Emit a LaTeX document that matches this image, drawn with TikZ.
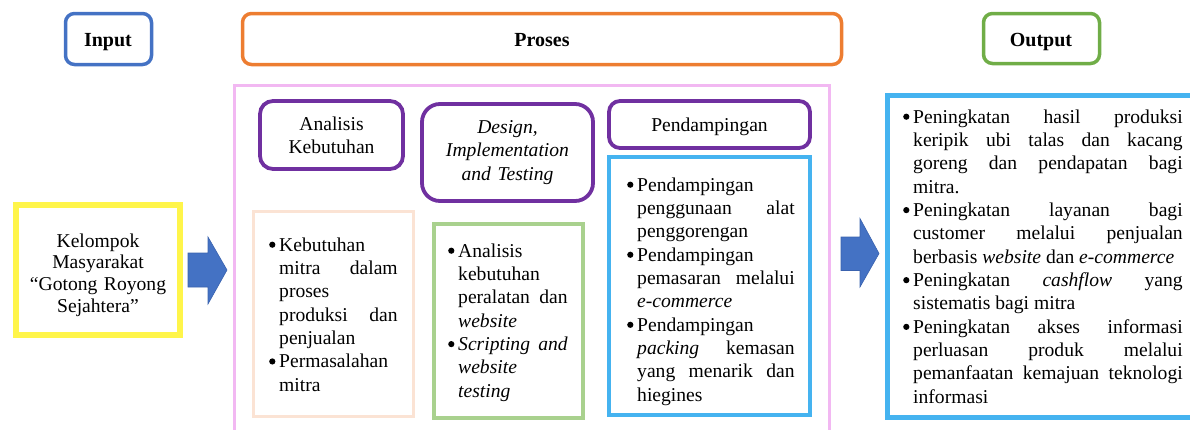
\documentclass[tikz,border=0pt]{standalone}
\usepackage{fontspec}
\setmainfont{Liberation Serif}
\definecolor{inblue}{HTML}{4472C4}
\definecolor{prorange}{HTML}{ED7D31}
\definecolor{outgreen}{HTML}{70AD47}
\definecolor{pinkc}{HTML}{F2B8F2}
\definecolor{purp}{HTML}{7030A0}
\definecolor{peach}{HTML}{FBE3D4}
\definecolor{lgreen}{HTML}{A9D18E}
\definecolor{skyb}{HTML}{45B3F0}
\definecolor{yel}{HTML}{FFF54A}
\definecolor{arrfill}{HTML}{4472C4}
\definecolor{arrline}{HTML}{3A62AE}
\newlength\bulw
\setlength\bulw{10pt}
\newcommand\bigbul{\tikz[baseline=0pt,x=1pt,y=1pt]\fill[black] (3.2,6.3) circle (3.1);}
\newcommand\bitem{\par\noindent\hangindent=\bulw\hangafter=1\makebox[\bulw][l]{\bigbul}\ignorespaces}
\newcommand\listsetup{\fontsize{19.6}{23.35}\selectfont\tolerance=10000\pretolerance=-1\hyphenpenalty=10000\exhyphenpenalty=10000\hbadness=10000\hfuzz=20pt\parindent=0pt\rightskip=0pt\parfillskip=0pt plus 1fil}
\tikzset{
  every node/.style={font=\fontsize{19.6}{23.3}\selectfont},
  titlebox/.style={draw, rounded corners=9pt, line width=3.5pt, inner sep=0pt},
  purpbox/.style={draw=purp, rounded corners=13pt, line width=3.8pt, inner sep=0pt},
  listbox/.style={draw, line width=4pt, inner sep=0pt},
  txt/.style={inner sep=0pt, anchor=base},
  lst/.style={inner sep=0pt, anchor=base west},
  blockarrow/.style={fill=arrfill, draw=arrline, line width=0.6pt},
}
\begin{document}
\begin{tikzpicture}[x=1pt,y=-1pt]
\useasboundingbox (0,0) rectangle (1190,429);
% title boxes
\node[titlebox, draw=inblue, minimum width=86, minimum height=51] (input) at (108.5,39) {};
\node[txt, font=\fontsize{20}{23.3}\selectfont\bfseries] (inputt) at (108,46) {Input};
\node[titlebox, draw=prorange, minimum width=599, minimum height=51] (proses) at (542,39) {};
\node[txt, font=\fontsize{20}{23.3}\selectfont\bfseries] (prosest) at (542,46) {Proses};
\node[titlebox, draw=outgreen, minimum width=116, minimum height=50] (output) at (1041.5,38.5) {};
\node[txt, font=\fontsize{20}{23.3}\selectfont\bfseries] (outputt) at (1041,46) {Output};
% pink process frame
\draw[pinkc, line width=3pt] (234.5,440) -- (234.5,85) -- (829,85) -- (829,440);
% input box
\node[draw=yel, line width=5.5pt, minimum width=164, minimum height=130, inner sep=0pt] (kel) at (98,270) {};
\node[txt, text width=170pt, align=center, font=\fontsize{19.6}{21.7}\selectfont] (kelt) at (98,247) {Kelompok\\Masyarakat\\“Gotong Royong\\Sejahtera”};
% purple header boxes
\node[purpbox, minimum width=143, minimum height=68] (ana) at (331.5,135) {};
\node[txt, text width=150pt, align=center] (anat) at (331.5,130) {Analisis\\Kebutuhan};
\node[purpbox, rounded corners=18pt, minimum width=171, minimum height=97] (des) at (507.5,152.5) {};
\node[txt, text width=170pt, align=center, font=\fontsize{19.6}{23.5}\selectfont\itshape] (dest) at (507.5,133) {Design,\\Implementation\\and Testing};
\node[purpbox, rounded corners=11pt, minimum width=201, minimum height=47] (pend) at (709.5,124.5) {};
\node[txt] (pendt) at (709.5,131) {Pendampingan};
% list boxes
\node[listbox, draw=peach, line width=3.5pt, minimum width=160, minimum height=205] (lkeb) at (333.5,314) {};
\node[listbox, draw=lgreen, minimum width=149, minimum height=194] (ldes) at (508.5,321) {};
\node[listbox, draw=skyb, minimum width=201, minimum height=258] (lpend) at (709.5,286) {};
\node[listbox, draw=skyb, line width=4.5pt, minimum width=306, minimum height=322] (lout) at (1040.5,256.5) {};
% list texts
\node[lst] (lkebt) at (269,251) {\begin{minipage}[t]{128.5pt}\listsetup
\bitem Kebutuhan\linebreak mitra dalam\linebreak proses\linebreak produksi dan\linebreak penjualan
\bitem Permasalahan\linebreak mitra\par\end{minipage}};
\node[lst] (ldest) at (448,257) {\begin{minipage}[t]{119.5pt}\listsetup
\bitem Analisis\linebreak kebutuhan\linebreak peralatan dan\linebreak \textit{website}
\bitem \textit{Scripting and}\linebreak \textit{website}\linebreak \textit{testing}\par\end{minipage}};
\node[lst] (lpendt) at (627,191) {\begin{minipage}[t]{167.5pt}\listsetup
\bitem Pendampingan\linebreak penggunaan alat\linebreak penggorengan
\bitem Pendampingan\linebreak pemasaran melalui\linebreak \textit{e-commerce}
\bitem Pendampingan\linebreak \textit{packing} kemasan\linebreak yang menarik dan\linebreak hiegines\par\end{minipage}};
\node[lst] (loutt) at (903,123) {\begin{minipage}[t]{279.5pt}\listsetup
\bitem Peningkatan hasil produksi\linebreak keripik ubi talas dan kacang\linebreak goreng dan pendapatan bagi\linebreak mitra.
\bitem Peningkatan layanan bagi\linebreak customer melalui penjualan\linebreak berbasis \textit{website} dan \textit{e-commerce}
\bitem Peningkatan \textit{cashflow} yang\linebreak sistematis bagi mitra
\bitem Peningkatan akses informasi\linebreak perluasan produk melalui\linebreak pemanfaatan kemajuan teknologi\linebreak informasi\par\end{minipage}};
% block arrows
\coordinate (a1) at (188,270);
\draw[blockarrow] (a1) ++(0,-17) -- ++(20,0) -- ++(0,-16) -- (227,270) -- (208,304) -- ++(0,-17) -- ++(-20,0) -- cycle;
\coordinate (a2) at (841,253.5);
\draw[blockarrow] (a2) ++(0,-16.5) -- ++(19,0) -- ++(0,-18.5) -- (879,253.5) -- (860,287) -- ++(0,-16.5) -- ++(-19,0) -- cycle;
\end{tikzpicture}
\end{document}
